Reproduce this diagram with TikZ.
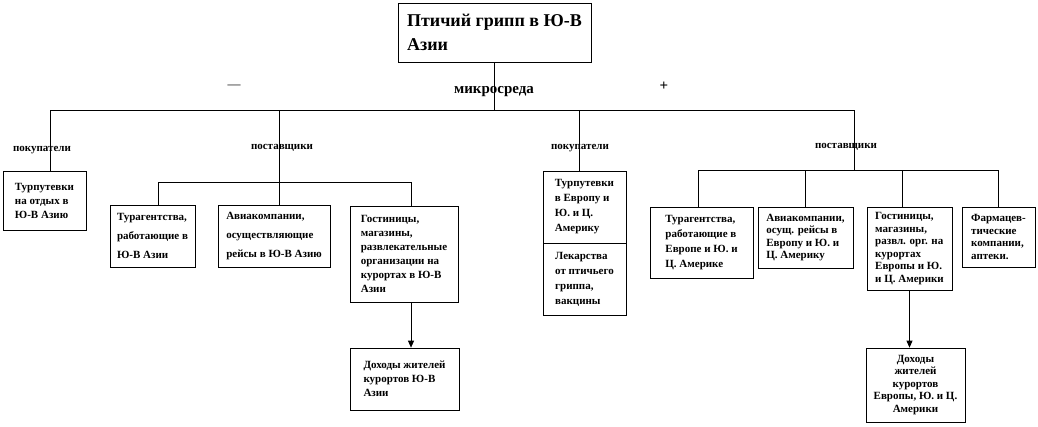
\documentclass[tikz,border=0pt]{standalone}
\usepackage{fontspec}
\setmainfont{Liberation Serif}
\usetikzlibrary{arrows.meta}
\begin{document}
\begin{tikzpicture}[
      x=1pt, y=-1pt, line width=0.7pt,
      >={Triangle[length=7pt, width=6pt]},
      box/.style={draw, align=left, inner sep=2pt,
        font=\bfseries\fontsize{11}{#1}\selectfont},
      box/.default=14,
      lbl/.style={inner sep=1pt, font=\bfseries\fontsize{11}{11}\selectfont},
      sign/.style={inner sep=1pt, font=\bfseries\fontsize{15}{15}\selectfont},
      arr/.style={->, line width=0.7pt},
    ]
      \useasboundingbox (0,0) rectangle (1038,426);

      % root and micro environment
      \node[box, minimum width=193, minimum height=59,
        font=\bfseries\fontsize{18}{24}\selectfont] (root) at (494.5,32.5) {Птичий грипп в Ю-В\\Азии};
      \node[sign] (micro) at (494,92) {микросреда};
      \node[sign, font=\fontsize{13}{13}\selectfont] (minus) at (234,87) {---};
      \node[sign] (plus) at (664,86) {+};

      \coordinate (mbus) at (0,110);
      \coordinate (lbus) at (0,182);
      \coordinate (rbus) at (0,170);
      \coordinate (dSupL) at (279,110);
      \coordinate (dBuyR) at (579,110);
      \coordinate (dSupR) at (854,110);

      % minus side
      \node[lbl] (lblBuyL) at (42,150) {покупатели};
      \node[lbl] (lblSupL) at (282,148) {поставщики};
      \node[box, minimum width=83, minimum height=59] (buyL) at (44.5,200.5) {Турпутевки\\на отдых в\\Ю-В Азию};
      \node[box=19, minimum width=85, minimum height=62] (supA) at (152.5,236) {Турагентства,\\работающие в\\Ю-В Азии};
      \node[box=19, minimum width=112, minimum height=62] (supB) at (274,236) {Авиакомпании,\\осуществляющие\\рейсы в Ю-В Азию};
      \node[box, minimum width=108, minimum height=96] (supC) at (404,254) {Гостиницы,\\магазины,\\развлекательные\\организации на\\курортах в Ю-В\\Азии};
      \node[box, minimum width=109, minimum height=62] (incD) at (404.5,379) {Доходы жителей\\курортов Ю-В\\Азии};

      % plus side
      \node[lbl] (lblBuyR) at (580,148) {покупатели};
      \node[lbl] (lblSupR) at (846,147) {поставщики};
      \node[box=15, minimum width=83, minimum height=72] (buyR) at (584.5,207) {Турпутевки\\в Европу и\\Ю. и Ц.\\Америку};
      \node[box=15, minimum width=83, minimum height=72] (drug) at (584.5,279) {Лекарства\\от птичьего\\гриппа,\\вакцины};
      \node[box=15, minimum width=103, minimum height=71] (supE) at (701.5,242.5) {Турагентства,\\работающие в\\Европе и Ю. и\\Ц. Америке};
      \node[box=12.5, minimum width=95, minimum height=61] (supF) at (805.5,237.5) {Авиакомпании,\\осущ. рейсы в\\Европу и Ю. и\\Ц. Америку};
      \node[box=12.5, minimum width=85, minimum height=83] (supG) at (909.5,248.5) {Гостиницы,\\магазины,\\развл. орг. на\\курортах\\Европы и Ю.\\и Ц. Америки};
      \node[box=12.5, minimum width=73, minimum height=60] (supH) at (998.5,237) {Фармацев-\\тические\\компании,\\аптеки.};
      \node[box=12.5, align=center, minimum width=99, minimum height=74] (incI) at (915.5,385) {Доходы\\жителей\\курортов\\Европы, Ю. и Ц.\\Америки};

      % main bus
      \draw (root.south) -- (root.south |- mbus);
      \draw ([xshift=5.5]buyL.north) |- (dSupR) -- (dSupR |- rbus);
      \draw (dSupL) -- (dSupL |- lbus);
      \draw (dBuyR) -- ([xshift=-5.5]buyR.north);

      % suppliers, minus side
      \draw ([xshift=5.5]supA.north) |- ([xshift=7]supC.north |- lbus) -- ([xshift=7]supC.north);
      \draw ([xshift=5]supB.north) -- ([xshift=5]supB.north |- lbus);
      \draw[arr] ([xshift=7]supC.south) -- ([xshift=7]supC.south |- incD.north);

      % suppliers, plus side
      \draw ([xshift=-3.5]supE.north) |- (supH.north |- rbus) -- (supH.north);
      \draw (supF.north) -- (supF.north |- rbus);
      \draw ([xshift=-7.5]supG.north) -- ([xshift=-7.5]supG.north |- rbus);
      \draw[arr] (supG.south) -- (supG.south |- incI.north);

    \end{tikzpicture}
\end{document}
